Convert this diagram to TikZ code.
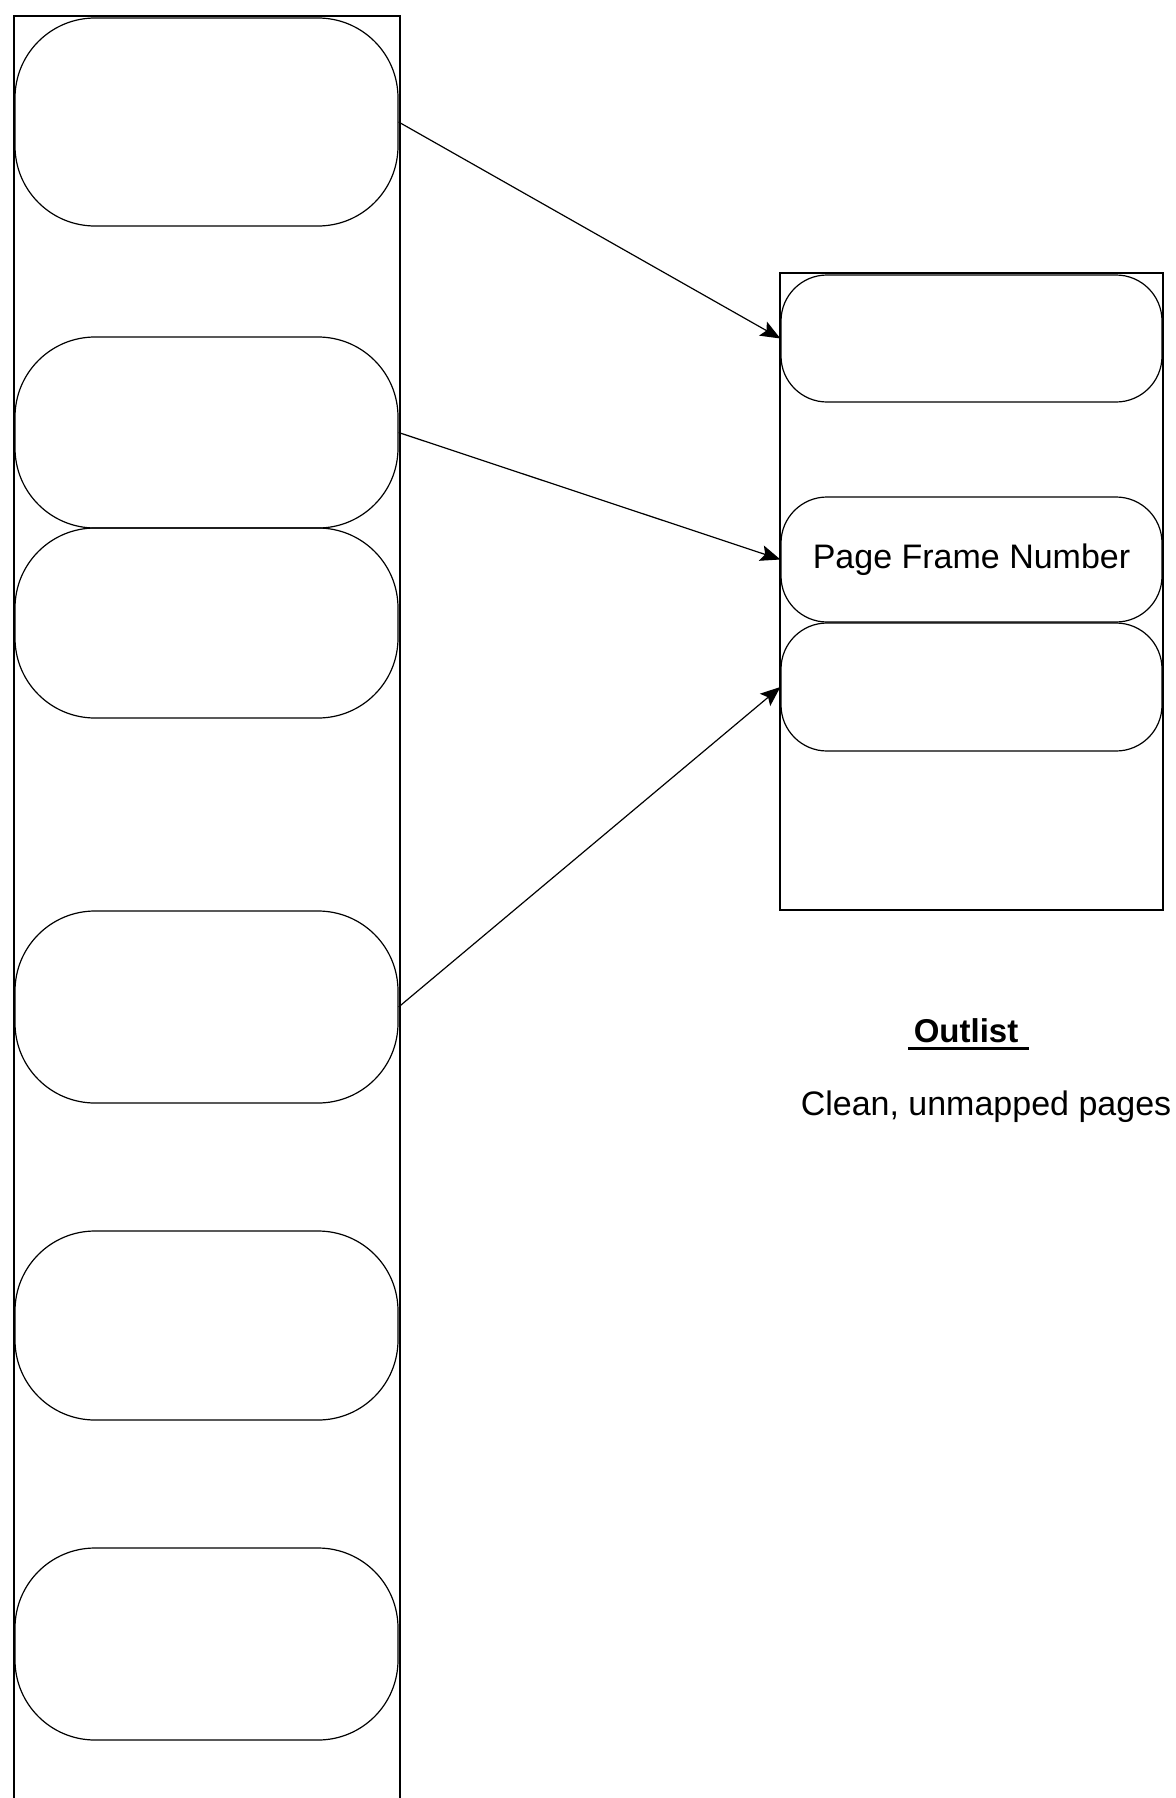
\documentclass[tikz,border=0pt]{standalone}
\usepackage{fontspec}
\setmainfont{Liberation Sans}
\usetikzlibrary{arrows.meta}
\tikzset{
  slot/.style={draw, line width=0.6pt, rounded corners=40pt, minimum width=191.5pt, inner sep=0pt},
  outslot/.style={draw, line width=0.6pt, rounded corners=23pt, minimum width=190.5pt, inner sep=0pt},
  ptr/.style={line width=0.6pt, -{Stealth[length=10pt,width=8pt,inset=2pt]}}
}
\begin{document}
\begin{tikzpicture}[x=0.5pt,y=-0.5pt]
    \useasboundingbox (0,0) rectangle (1176,1798);
    \fontsize{17}{20}\selectfont
    \draw[line width=0.7pt] (14,1800) |- (400,16) -- (400,1800);
    \draw[line width=0.7pt] (780,273) rectangle (1163,910);
    \foreach \n/\y/\h in {1/122/104,2/432.5/95.5,3/623/95,4/1007/96,5/1325.5/94.5,6/1644/96}
    \node[slot, minimum height=\h pt] (l\n) at (206.5,\y) {};
    \node[outslot, minimum height=63.5pt] (r1) at (971.5,338.5) {};
    \node[outslot, minimum height=62.5pt] (r2) at (971.5,559.5) {Page Frame Number};
    \node[outslot, minimum height=64pt] (r3) at (971.5,687) {};
    \draw[ptr] (l1.east) -- (r1.west);
    \draw[ptr] (l2.east) -- (r2.west);
    \draw[ptr] (l4.east) -- (r3.west);
    \node[inner sep=0pt, anchor=base] (outl) at (966,1042) {\fontsize{16.5}{20}\selectfont\bfseries Outlist};
    \draw[line width=1.5pt] ([xshift=-2.5pt,yshift=-3pt]outl.base west) -- ([xshift=5pt,yshift=-3pt]outl.base east);
    \node[inner sep=0pt, anchor=base] (clean) at (986,1115) {Clean, unmapped pages};
  \end{tikzpicture}
\end{document}
